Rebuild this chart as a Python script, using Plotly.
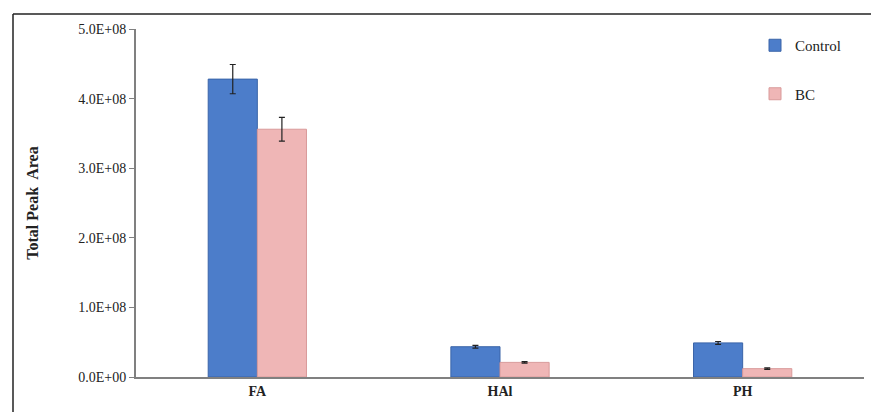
import plotly.graph_objects as go

categories = ["FA", "HAl", "PH"]
control = [4.28e8, 0.435e8, 0.49e8]
control_err = [2.1e7, 0.2e7, 0.2e7]
bc = [3.56e8, 0.21e8, 0.12e8]
bc_err = [1.7e7, 0.1e7, 0.1e7]
tick_vals = [0, 1e8, 2e8, 3e8, 4e8, 5e8]
tick_text = ["0.0E+00", "1.0E+08", "2.0E+08", "3.0E+08", "4.0E+08", "5.0E+08"]

OFF = 8  # page body margin
W, H = 879 - OFF, 412 - OFF
L, R, T, B = 136 - OFF, 15, 29 - OFF, 35
pw = W - L - R
ph = H - T - B

fig = go.Figure()
fig.add_trace(go.Bar(
    x=categories, y=control, name="Control", legendgroup="a",
    marker=dict(color="#4c7dca", line=dict(color="#3a64a8", width=1)),
    error_y=dict(type="data", array=control_err, color="#222222", thickness=1.2, width=3),
))
fig.add_trace(go.Bar(
    x=categories, y=bc, name="BC", legendgroup="b",
    marker=dict(color="#efb6b6", line=dict(color="#d99a9a", width=1)),
    error_y=dict(type="data", array=bc_err, color="#222222", thickness=1.2, width=3),
))

font_family = "Liberation Serif"
fig.update_layout(
    width=W, height=H,
    margin=dict(l=L, r=R, t=T, b=B, pad=0),
    paper_bgcolor="white", plot_bgcolor="white",
    barmode="group", bargap=0.595, bargroupgap=0,
    font=dict(family=font_family, size=14, color="#222222"),
    showlegend=True,
    legend=dict(
        x=(755 - OFF - L) / pw, y=(377 - 29) / ph, xanchor="left", yanchor="top",
        bgcolor="rgba(0,0,0,0)", tracegroupgap=26,
        font=dict(family=font_family, size=15, color="#222222"),
        itemwidth=30,
    ),
    xaxis=dict(
        showline=True, linecolor="#808080", linewidth=2,
        ticks="", showgrid=False,
        tickfont=dict(family=font_family, size=14, color="#222222", weight="bold"),
    ),
    yaxis=dict(
        range=[0, 5e8], tickvals=tick_vals, ticktext=tick_text,
        showline=True, linecolor="#808080", linewidth=2,
        ticks="outside", ticklen=5, tickcolor="#808080",
        showgrid=False, zeroline=False,
        tickfont=dict(family=font_family, size=14, color="#222222"),
        title=dict(text="Total Peak  Area", standoff=36,
                   font=dict(family=font_family, size=16, color="#222222", weight="bold")),
    ),
)

# frame around figure (left and top edges)
fx0 = (13 - OFF - L) / pw
fy1 = (377 - 14) / ph
fig.add_shape(type="line", xref="paper", yref="paper", x0=fx0, x1=fx0, y0=fy1, y1=-0.2,
              line=dict(color="#222222", width=1.5))
fig.add_shape(type="line", xref="paper", yref="paper", x0=fx0, x1=(W - L) / pw, y0=fy1, y1=fy1,
              line=dict(color="#222222", width=1.5))

fig.write_html("out.html")
